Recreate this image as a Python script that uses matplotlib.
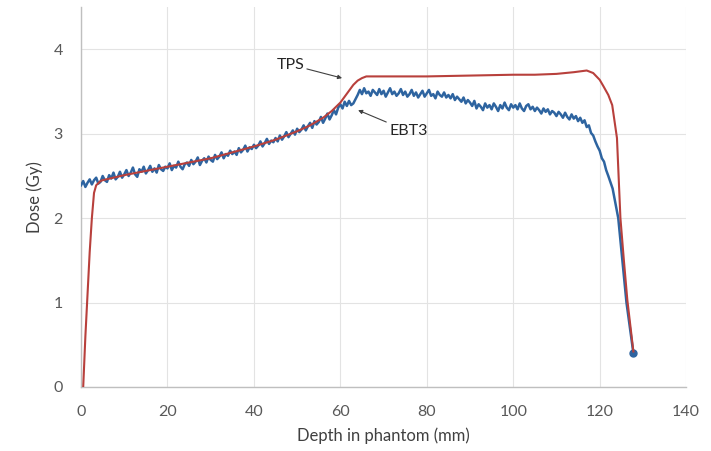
import numpy as np
import matplotlib
matplotlib.use("Agg")
import matplotlib.pyplot as plt

plt.rcParams['font.family'] = ['Lato', 'DejaVu Sans']

# EBT3 film measurement, sampled every 0.5 mm from 0 to 122 mm
ebt3_grid = np.arange(0, 122.5, 0.5)
ebt3_dose_grid = [
    2.39, 2.44, 2.37, 2.42, 2.46, 2.40, 2.45, 2.48, 2.41, 2.43,
    2.50, 2.45, 2.43, 2.51, 2.47, 2.54, 2.46, 2.49, 2.55, 2.48,
    2.52, 2.57, 2.50, 2.54, 2.60, 2.52, 2.49, 2.58, 2.55, 2.61,
    2.53, 2.57, 2.62, 2.55, 2.59, 2.54, 2.63, 2.58, 2.56, 2.61,
    2.59, 2.65, 2.57, 2.62, 2.60, 2.67, 2.61, 2.58, 2.64, 2.66,
    2.62, 2.69, 2.64, 2.67, 2.72, 2.63, 2.68, 2.71, 2.66, 2.73,
    2.69, 2.67, 2.75, 2.70, 2.73, 2.78, 2.71, 2.76, 2.74, 2.80,
    2.76, 2.79, 2.75, 2.83, 2.78, 2.81, 2.86, 2.79, 2.84, 2.82,
    2.87, 2.83, 2.86, 2.91, 2.85, 2.89, 2.94, 2.88, 2.92, 2.90,
    2.95, 2.91, 2.98, 2.93, 2.97, 3.02, 2.96, 3.00, 3.04, 2.99,
    3.06, 3.02, 3.05, 3.10, 3.04, 3.09, 3.13, 3.07, 3.15, 3.11,
    3.14, 3.20, 3.13, 3.18, 3.24, 3.17, 3.22, 3.28, 3.23, 3.31,
    3.35, 3.30, 3.38, 3.33, 3.39, 3.34, 3.36, 3.41, 3.46, 3.52,
    3.47, 3.54, 3.48, 3.50, 3.45, 3.52, 3.49, 3.46, 3.53, 3.47,
    3.51, 3.44, 3.49, 3.54, 3.47, 3.50, 3.45, 3.48, 3.53, 3.46,
    3.50, 3.44, 3.47, 3.52, 3.45, 3.49, 3.43, 3.47, 3.51, 3.44,
    3.48, 3.52, 3.45, 3.47, 3.42, 3.50, 3.46, 3.44, 3.49, 3.43,
    3.46, 3.42, 3.47, 3.40, 3.44, 3.41, 3.38, 3.43, 3.36, 3.40,
    3.37, 3.33, 3.39, 3.30, 3.35, 3.32, 3.28, 3.36, 3.31, 3.34,
    3.29, 3.36, 3.32, 3.27, 3.34, 3.30, 3.37, 3.31, 3.28, 3.35,
    3.31, 3.34, 3.29, 3.36, 3.30, 3.27, 3.33, 3.35, 3.29, 3.32,
    3.27, 3.31, 3.28, 3.24, 3.30, 3.26, 3.29, 3.23, 3.27, 3.25,
    3.21, 3.26, 3.23, 3.19, 3.25, 3.20, 3.17, 3.23, 3.18, 3.21,
    3.15, 3.19, 3.13, 3.16, 3.08, 3.10, 3.01, 2.98, 2.91, 2.85,
    2.80, 2.71, 2.67, 2.57, 2.50,
]
# distal fall-off of the film profile
ebt3_tail_depth = [123.0, 124.3, 126.2, 127.8]
ebt3_tail_dose = [2.35, 2.00, 1.00, 0.40]

# treatment planning system profile
tps_depth = [0.5, 1.0, 1.5, 2.0, 2.5, 3.0, 3.5, 4.5, 5, 10, 20, 30, 40, 45,
             50, 53, 56, 58, 60, 61, 62, 63, 64, 65, 66, 70, 80, 90, 100,
             105, 110, 114, 117, 118.5, 120, 120.8, 122, 122.9, 124, 124.8,
             125.6, 126.4, 127.8]
tps_dose = [0.0, 0.60, 1.10, 1.60, 2.00, 2.30, 2.39, 2.44, 2.45, 2.51, 2.61,
            2.71, 2.85, 2.93, 3.03, 3.10, 3.19, 3.27, 3.37, 3.44, 3.51, 3.58,
            3.63, 3.66, 3.68, 3.68, 3.68, 3.69, 3.70, 3.70, 3.71, 3.73, 3.75,
            3.72, 3.64, 3.57, 3.46, 3.34, 2.95, 2.00, 1.50, 1.03, 0.42]

ebt3_depth = list(ebt3_grid) + ebt3_tail_depth
ebt3_dose = ebt3_dose_grid + ebt3_tail_dose

fig = plt.figure(figsize=(7.11, 4.51), dpi=100)
ax = fig.add_axes([0.114, 0.142, 0.851, 0.842])

ax.plot(ebt3_depth, ebt3_dose, color='#2E64A0', lw=1.8, zorder=3)
ax.plot(ebt3_depth[-1:], ebt3_dose[-1:], 'o', color='#2E64A0', ms=5, zorder=3)
ax.plot(tps_depth, tps_dose, color='#B8403C', lw=1.5, zorder=4)

ax.set_xlim(0, 140)
ax.set_ylim(0, 4.5)
ax.set_xticks(range(0, 141, 20))
ax.set_yticks([0, 1, 2, 3, 4])
ax.grid(True, color='#E3E3E3', lw=0.8)
ax.set_axisbelow(True)
for side in ['top', 'right']:
    ax.spines[side].set_visible(False)
for side in ['left', 'bottom']:
    ax.spines[side].set_color('#BFBFBF')
    ax.spines[side].set_linewidth(1.0)
ax.tick_params(length=0, labelsize=11.5, colors='#595959')
ax.tick_params(axis='x', pad=13)
ax.tick_params(axis='y', pad=13)

ax.set_xlabel('Depth in phantom (mm)', fontsize=12, color='#404040', labelpad=6)
ax.set_ylabel('Dose (Gy)', fontsize=12, color='#404040', labelpad=8)

arrow = dict(arrowstyle='-|>', color='#404040', lw=0.8, mutation_scale=6,
             shrinkA=0, shrinkB=0)
ax.annotate('TPS', xy=(60.4, 3.66), xytext=(48.4, 3.82), fontsize=11.5,
            color='#262626', ha='center', va='center', arrowprops=arrow)
ax.annotate('EBT3', xy=(64.1, 3.28), xytext=(75.7, 3.03), fontsize=11.5,
            color='#262626', ha='center', va='center', arrowprops=arrow)

plt.savefig('out.png', dpi=100)
plt.close()
